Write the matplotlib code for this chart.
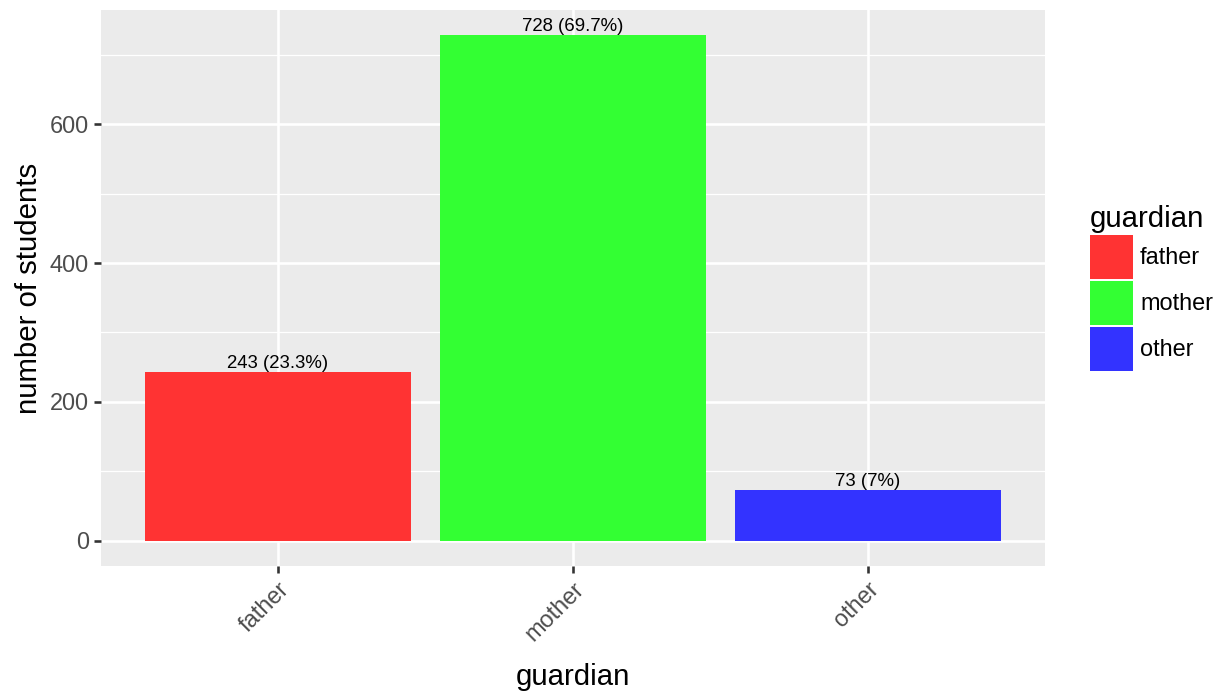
import matplotlib.pyplot as plt
from matplotlib.patches import Patch

# data
categories = ["father", "mother", "other"]
counts = [243, 728, 73]
colors = ["#FF3333", "#33FF33", "#3333FF"]

total = sum(counts)
labels = [f"{c} ({round(100 * c / total, 1):g}%)" for c in counts]

plt.rcParams['font.family'] = ['Liberation Sans', 'DejaVu Sans']

fig = plt.figure(figsize=(7, 691 / 175), dpi=175)
ax = fig.add_axes([101 / 1225, 1 - 566 / 691, (1045 - 101) / 1225, (566 - 10) / 691])
ax.set_facecolor("#EBEBEB")

x = list(range(len(categories)))
ax.bar(x, counts, width=0.9, color=colors, zorder=3)
for xi, c, lab in zip(x, counts, labels):
    ax.text(xi, c, lab, ha="center", va="bottom", fontsize=7.7, zorder=4)

ax.set_xlim(-0.6, 2.6)
ax.set_ylim(-36.4, 764.4)
ax.set_xticks(x)
ax.set_xticklabels(categories, rotation=45, ha="right", rotation_mode="anchor")
ax.set_yticks([0, 200, 400, 600])
ax.set_yticks([100, 300, 500, 700], minor=True)

ax.grid(which="major", color="white", linewidth=1.07, zorder=1)
ax.grid(which="minor", axis="y", color="white", linewidth=0.53, zorder=1)
ax.set_axisbelow(True)
for s in ax.spines.values():
    s.set_visible(False)

ax.tick_params(axis="both", which="major", length=2.75, width=1.07, color="#333333",
               labelsize=9.7, labelcolor="#4D4D4D", pad=2.2)
ax.tick_params(axis="y", which="minor", length=0)

ax.set_xlabel("guardian", fontsize=12.1, labelpad=7.5)
ax.set_ylabel("number of students", fontsize=12.1, labelpad=3)

handles = [Patch(facecolor=c, edgecolor="none") for c in colors]
leg = fig.legend(handles, categories, title="guardian", loc="upper left",
                 bbox_to_anchor=(1090 / 1225, 1 - 205 / 691), frameon=False,
                 fontsize=9.7, title_fontsize=12.1, handlelength=1.82, handleheight=2.47,
                 labelspacing=0.1, handletextpad=0.3, borderpad=0, borderaxespad=0,
                 alignment="left")

fig.savefig("out.png", dpi=175)
